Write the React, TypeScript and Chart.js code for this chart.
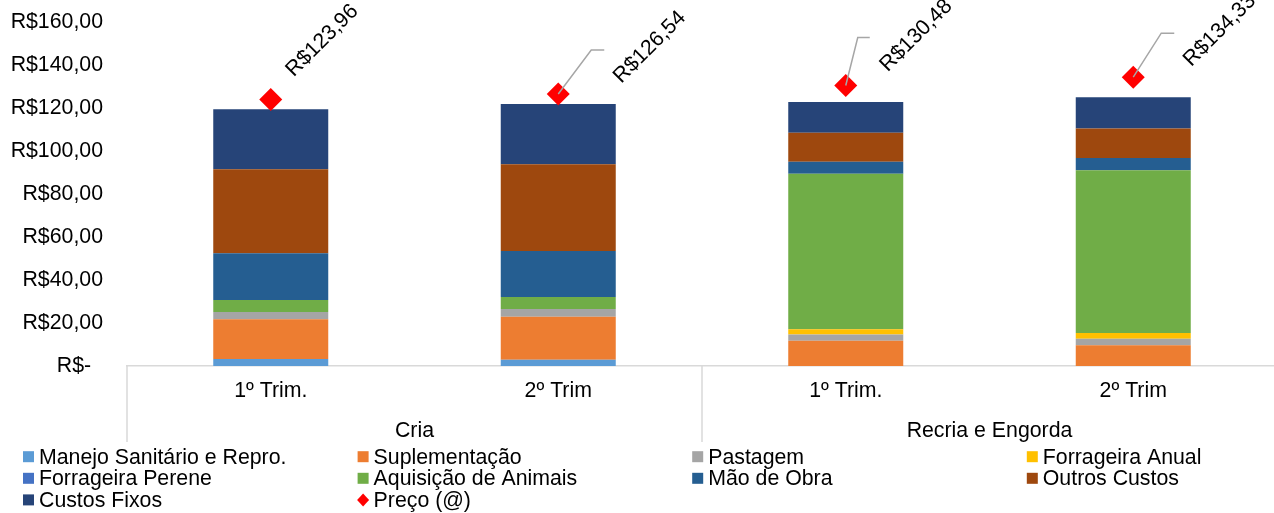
import React, { useEffect, useRef } from "react";
import { Chart, registerables } from "chart.js";

Chart.register(...registerables);

// ---------- DATA ----------
const CATEGORIES = ["1º Trim.", "2º Trim", "1º Trim.", "2º Trim"];
const GROUPS = ["Cria", "Recria e Engorda"];
const GROUP_SIZES = [2, 2];
const Y_TICK_LABELS = [
  "R$-  ",
  "R$20,00",
  "R$40,00",
  "R$60,00",
  "R$80,00",
  "R$100,00",
  "R$120,00",
  "R$140,00",
  "R$160,00",
];

const MANEJO = [3.3, 2.9, 0, 0];
const SUPLEMENTACAO = [18.4, 20.0, 11.8, 9.6];
const PASTAGEM = [3.4, 3.6, 2.8, 3.1];
const FORRAGEIRA_ANUAL = [0, 0, 2.5, 2.6];
const FORRAGEIRA_PERENE = [0, 0, 0, 0];
const AQUISICAO = [5.6, 5.6, 72.3, 75.7];
const MAO_DE_OBRA = [21.7, 21.4, 5.6, 5.7];
const OUTROS_CUSTOS = [39.1, 40.3, 13.5, 13.8];
const CUSTOS_FIXOS = [27.9, 28.1, 14.3, 14.5];
const PRECO = [123.96, 126.54, 130.48, 134.33];
const PRECO_LABELS = ["R$123,96", "R$126,54", "R$130,48", "R$134,33"];

// ---------- STYLE ----------
const FONT_FAMILY = "'Liberation Sans', Arial, Helvetica, sans-serif";
const FONT_SIZE = 21.3;
const TEXT_COLOR = "#000000";
const AXIS_COLOR = "#d9d9d9";

// label offsets relative to marker centre (style only)
const LABEL_OFFSETS: [number, number][] = [
  [23, -22],
  [63, -10],
  [42, -13],
  [58, -10],
];
const LEADERS: ([number, number][] | null)[] = [
  null,
  [
    [33, -44],
    [46, -44],
  ],
  [
    [12, -48],
    [24, -48],
  ],
  [
    [28, -44],
    [41, -44],
  ],
];

const LEGEND_X0 = 23;
const LEGEND_COL_W = 334.6;
const LEGEND_Y0 = 456.7;
const LEGEND_ROW_H = 21.6;
const LEGEND_COLS = 4;

const barSet = (label: string, data: number[], color: string) => ({
  type: "bar" as const,
  label,
  data,
  backgroundColor: color,
  borderWidth: 0,
  barPercentage: 0.4,
  categoryPercentage: 1.0,
  order: 1,
});

const overlayPlugin = {
  id: "overlay",
  afterDatasetsDraw(chart: any) {
    const ctx = chart.ctx as CanvasRenderingContext2D;
    const priceIndex = chart.data.datasets.length - 1;
    const meta = chart.getDatasetMeta(priceIndex);
    ctx.save();
    ctx.strokeStyle = "#a6a6a6";
    ctx.lineWidth = 1.5;
    meta.data.forEach((pt: any, i: number) => {
      const l = LEADERS[i];
      if (!l) return;
      ctx.beginPath();
      ctx.moveTo(pt.x, pt.y);
      l.forEach(([dx, dy]) => ctx.lineTo(pt.x + dx, pt.y + dy));
      ctx.stroke();
    });
    ctx.font = `${FONT_SIZE}px ${FONT_FAMILY}`;
    ctx.fillStyle = TEXT_COLOR;
    ctx.textAlign = "left";
    ctx.textBaseline = "alphabetic";
    meta.data.forEach((pt: any, i: number) => {
      const [ox, oy] = LABEL_OFFSETS[i];
      ctx.save();
      ctx.translate(pt.x + ox, pt.y + oy);
      ctx.rotate(-Math.PI / 4);
      ctx.fillText(PRECO_LABELS[i], 0, 0);
      ctx.restore();
    });
    ctx.restore();
  },
  afterDraw(chart: any) {
    const ctx = chart.ctx as CanvasRenderingContext2D;
    const xs = chart.scales.x;
    const area = chart.chartArea;
    const catW = (xs.right - xs.left) / CATEGORIES.length;
    ctx.save();
    // group separators
    ctx.strokeStyle = AXIS_COLOR;
    ctx.lineWidth = 1.5;
    let idx = 0;
    const bounds = [0];
    GROUP_SIZES.forEach((s) => {
      idx += s;
      bounds.push(idx);
    });
    bounds.forEach((b) => {
      const x = xs.left + b * catW;
      ctx.beginPath();
      ctx.moveTo(x, area.bottom);
      ctx.lineTo(x, area.bottom + 76);
      ctx.stroke();
    });
    // group labels
    ctx.font = `${FONT_SIZE}px ${FONT_FAMILY}`;
    ctx.fillStyle = TEXT_COLOR;
    ctx.textAlign = "center";
    ctx.textBaseline = "middle";
    GROUPS.forEach((g, gi) => {
      const x0 = xs.left + bounds[gi] * catW;
      const x1 = xs.left + bounds[gi + 1] * catW;
      ctx.fillText(g, (x0 + x1) / 2, area.bottom + 65);
    });
    // legend
    ctx.textAlign = "left";
    chart.data.datasets.forEach((ds: any, i: number) => {
      const col = i % LEGEND_COLS;
      const row = Math.floor(i / LEGEND_COLS);
      const x = LEGEND_X0 + col * LEGEND_COL_W;
      const y = LEGEND_Y0 + row * LEGEND_ROW_H;
      ctx.fillStyle = ds.backgroundColor;
      if (ds.type === "line") {
        ctx.beginPath();
        ctx.moveTo(x + 5.5, y - 6.5);
        ctx.lineTo(x + 11.5, y);
        ctx.lineTo(x + 5.5, y + 6.5);
        ctx.lineTo(x - 0.5, y);
        ctx.closePath();
        ctx.fill();
      } else {
        ctx.fillRect(x, y - 5.5, 11, 11);
      }
      ctx.fillStyle = TEXT_COLOR;
      ctx.fillText(ds.label, x + 16, y + 1);
    });
    ctx.restore();
  },
};

export default function App() {
  const ref = useRef<HTMLCanvasElement>(null);

  useEffect(() => {
    const canvas = ref.current;
    if (!canvas) return;
    const chart = new Chart(canvas, {
      type: "bar",
      data: {
        labels: CATEGORIES,
        datasets: [
          barSet("Manejo Sanitário e Repro.", MANEJO, "#5B9BD5"),
          barSet("Suplementação", SUPLEMENTACAO, "#ED7D31"),
          barSet("Pastagem", PASTAGEM, "#A5A5A5"),
          barSet("Forrageira Anual", FORRAGEIRA_ANUAL, "#FFC000"),
          barSet("Forrageira Perene", FORRAGEIRA_PERENE, "#4472C4"),
          barSet("Aquisição de Animais", AQUISICAO, "#70AD47"),
          barSet("Mão de Obra", MAO_DE_OBRA, "#255E91"),
          barSet("Outros Custos", OUTROS_CUSTOS, "#9E480E"),
          barSet("Custos Fixos", CUSTOS_FIXOS, "#264478"),
          {
            type: "line" as const,
            label: "Preço (@)",
            data: PRECO,
            showLine: false,
            pointStyle: "rectRot",
            pointRadius: 11.5,
            pointHoverRadius: 11.5,
            backgroundColor: "#FF0000",
            borderColor: "#FF0000",
            pointBorderWidth: 0,
            clip: false,
            order: 0,
          } as any,
        ],
      },
      options: {
        responsive: false,
        animation: false,
        events: [],
        layout: { autoPadding: false, padding: { left: 0, right: 0, top: 22, bottom: 0 } },
        plugins: {
          legend: { display: false },
          tooltip: { enabled: false },
        },
        scales: {
          x: {
            stacked: true,
            offset: true,
            grid: { display: false, drawTicks: false },
            border: { display: true, color: AXIS_COLOR, width: 1.5 },
            ticks: {
              color: TEXT_COLOR,
              font: { family: FONT_FAMILY, size: FONT_SIZE },
              padding: 12,
              maxRotation: 0,
              autoSkip: false,
            },
            afterFit: (s: any) => {
              s.height = 147;
            },
          },
          y: {
            stacked: true,
            min: 0,
            max: 160,
            grid: { display: false, drawTicks: false },
            border: { display: false },
            ticks: {
              stepSize: 20,
              color: TEXT_COLOR,
              font: { family: FONT_FAMILY, size: FONT_SIZE },
              padding: 24,
              callback: (_v: any, i: number) => Y_TICK_LABELS[i],
            },
            afterFit: (s: any) => {
              s.width = 127;
              s.paddingTop = 0;
              s.paddingBottom = 0;
            },
          },
        },
      },
      plugins: [overlayPlugin],
    } as any);
    return () => chart.destroy();
  }, []);

  return (
    <div
      style={{
        position: "absolute",
        left: 0,
        top: 0,
        width: 1274,
        height: 513,
        overflow: "hidden",
        background: "#ffffff",
      }}
    >
      <canvas
        ref={ref}
        width={1277}
        height={513}
        style={{ display: "block", width: 1277, height: 513 }}
      />
    </div>
  );
}
